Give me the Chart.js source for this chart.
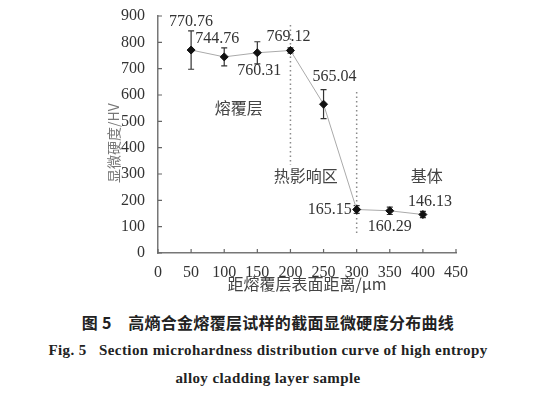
<!DOCTYPE html>
<html>
<head>
<meta charset="utf-8">
<script src="https://cdn.jsdelivr.net/npm/chart.js@4.4.1/dist/chart.umd.min.js"></script>
<style>
  body { margin: 0; background: #fff; }
  #wrap { position: relative; width: 560px; height: 398px; }
  #box { position: absolute; left: 0; top: 0; width: 560px; height: 300px; }
  .cap { position: absolute; left: -12px; width: 560px; text-align: center; white-space: pre; color: #222; }
  #cap1 { top: 310px; font: bold 16px "Noto Sans CJK SC", sans-serif; letter-spacing: 0.3px; }
  #cap2 { top: 342px; font: bold 15px "Liberation Serif", serif; letter-spacing: 0.4px; }
  #cap3 { top: 370px; font: bold 15px "Liberation Serif", serif; letter-spacing: 0.4px; }
</style>
</head>
<body>
<div id="wrap">
  <div id="box"><canvas id="grafico"></canvas></div>
  <div class="cap" id="cap1">图 5　高熵合金熔覆层试样的截面显微硬度分布曲线</div>
  <div class="cap" id="cap2">Fig. 5   Section microhardness distribution curve of high entropy</div>
  <div class="cap" id="cap3">alloy cladding layer sample</div>
</div>
<script>
// dados
const distancias = [50, 100, 150, 200, 250, 300, 350, 400];
const dureza = [770.76, 744.76, 760.31, 769.12, 565.04, 165.15, 160.29, 146.13];
const erros = [73, 34, 42, 10, 55, 15, 14, 12];
const rotulos = ['770.76', '744.76', '760.31', '769.12', '565.04', '165.15', '160.29', '146.13'];
// deslocamento dos rótulos (px) em relação ao ponto
const rotuloDx = [0, -7, 2, -2, 11, -27, 0, 7];
const rotuloDy = [-28, -18, 18, -14, -27, 0, 16, -13];

const xTicks = [0, 50, 100, 150, 200, 250, 300, 350, 400, 450];
const yTicks = [0, 100, 200, 300, 400, 500, 600, 700, 800, 900];

// linhas pontilhadas que separam as zonas
const divisoriaX = [200, 300];
const divisoriaTopo = [866, 611];
const divisoriaBase = [334, 76];

// nomes das zonas
const zonas = ['熔覆层', '热影响区', '基体'];
const zonaX = [122, 223, 406];
const zonaY = [551, 294, 294];

const serif = '"Liberation Serif", "DejaVu Serif", serif';
const cjk = '"Noto Sans CJK SC", sans-serif';

// barras de erro, divisórias, textos e marcas internas dos eixos
const extras = {
    id: 'extras',
    beforeDatasetsDraw(chart) {
        const ctx = chart.ctx;
        const xs = chart.scales.x, ys = chart.scales.y;
        ctx.save();
        // divisórias
        ctx.strokeStyle = '#8a8a8a';
        ctx.lineWidth = 1.5;
        ctx.setLineDash([1.5, 3]);
        divisoriaX.forEach((d, i) => {
            const px = xs.getPixelForValue(d);
            ctx.beginPath();
            ctx.moveTo(px, ys.getPixelForValue(divisoriaTopo[i]));
            ctx.lineTo(px, ys.getPixelForValue(divisoriaBase[i]));
            ctx.stroke();
        });
        ctx.setLineDash([]);
        // barras de erro
        ctx.strokeStyle = '#333';
        ctx.lineWidth = 1.2;
        distancias.forEach((d, i) => {
            const px = xs.getPixelForValue(d);
            const top = ys.getPixelForValue(dureza[i] + erros[i]);
            const bot = ys.getPixelForValue(dureza[i] - erros[i]);
            ctx.beginPath();
            ctx.moveTo(px, top); ctx.lineTo(px, bot);
            ctx.moveTo(px - 3, top); ctx.lineTo(px + 3, top);
            ctx.moveTo(px - 3, bot); ctx.lineTo(px + 3, bot);
            ctx.stroke();
        });
        ctx.restore();
    },
    afterDatasetsDraw(chart) {
        const ctx = chart.ctx;
        const xs = chart.scales.x, ys = chart.scales.y;
        ctx.save();
        ctx.textAlign = 'center';
        ctx.textBaseline = 'middle';
        // rótulos dos valores
        ctx.fillStyle = '#333';
        ctx.font = '16px ' + serif;
        rotulos.forEach((t, i) => {
            ctx.fillText(t, xs.getPixelForValue(distancias[i]) + rotuloDx[i],
                ys.getPixelForValue(dureza[i]) + rotuloDy[i]);
        });
        // zonas
        ctx.fillStyle = '#444';
        ctx.font = '16px ' + cjk;
        zonas.forEach((t, i) => {
            ctx.fillText(t, xs.getPixelForValue(zonaX[i]), ys.getPixelForValue(zonaY[i]));
        });
        // marcas internas
        ctx.strokeStyle = '#666';
        ctx.lineWidth = 1.2;
        const area = chart.chartArea;
        ctx.beginPath();
        xTicks.forEach(v => {
            const px = xs.getPixelForValue(v);
            ctx.moveTo(px, area.bottom); ctx.lineTo(px, area.bottom - 4);
        });
        yTicks.forEach(v => {
            const py = ys.getPixelForValue(v);
            ctx.moveTo(area.left, py); ctx.lineTo(area.left + 4, py);
        });
        ctx.stroke();
        ctx.restore();
    }
};

const ctxLinha = document.getElementById('grafico');
new Chart(ctxLinha, {
    type: 'line',
    data: {
        labels: distancias,
        datasets: [{
            data: distancias.map((d, i) => ({ x: d, y: dureza[i] })),
            borderColor: '#aaa',
            borderWidth: 1,
            pointStyle: 'rectRot',
            pointRadius: 4,
            pointBackgroundColor: '#111',
            pointBorderColor: '#111',
            pointBorderWidth: 1,
            tension: 0
        }]
    },
    options: {
        responsive: true,
        maintainAspectRatio: false,
        animation: false,
        events: [],
        layout: { padding: { left: 105, right: 104, top: 16, bottom: 0 } },
        plugins: { legend: { display: false }, tooltip: { enabled: false } },
        scales: {
            x: {
                type: 'linear',
                min: 0, max: 450,
                afterBuildTicks: s => { s.ticks = xTicks.map(v => ({ value: v })); },
                afterFit: s => { s.height = 47; },
                grid: { display: false },
                border: { display: true, color: '#777', width: 1.5 },
                ticks: { color: '#333', font: { family: serif, size: 16 }, padding: 2, maxRotation: 0 },
                title: { display: true, text: '距熔覆层表面距离/μm', color: '#444',
                    font: { family: cjk, size: 16 }, padding: { top: 0, bottom: 6 } }
            },
            y: {
                min: 0, max: 900,
                afterBuildTicks: s => { s.ticks = yTicks.map(v => ({ value: v })); },
                afterFit: s => { s.width = 53; },
                grid: { display: false },
                border: { display: true, color: '#777', width: 1.5 },
                ticks: { color: '#333', font: { family: serif, size: 16 }, padding: 5 },
                // espaços finais empurram o título um pouco para baixo
                title: { display: true, text: '显微硬度/HV\u3000 ', color: '#777',
                    font: { family: cjk, size: 14 }, padding: { top: 0, bottom: 0 } }
            }
        }
    },
    plugins: [extras]
});
</script>
</body>
</html>
